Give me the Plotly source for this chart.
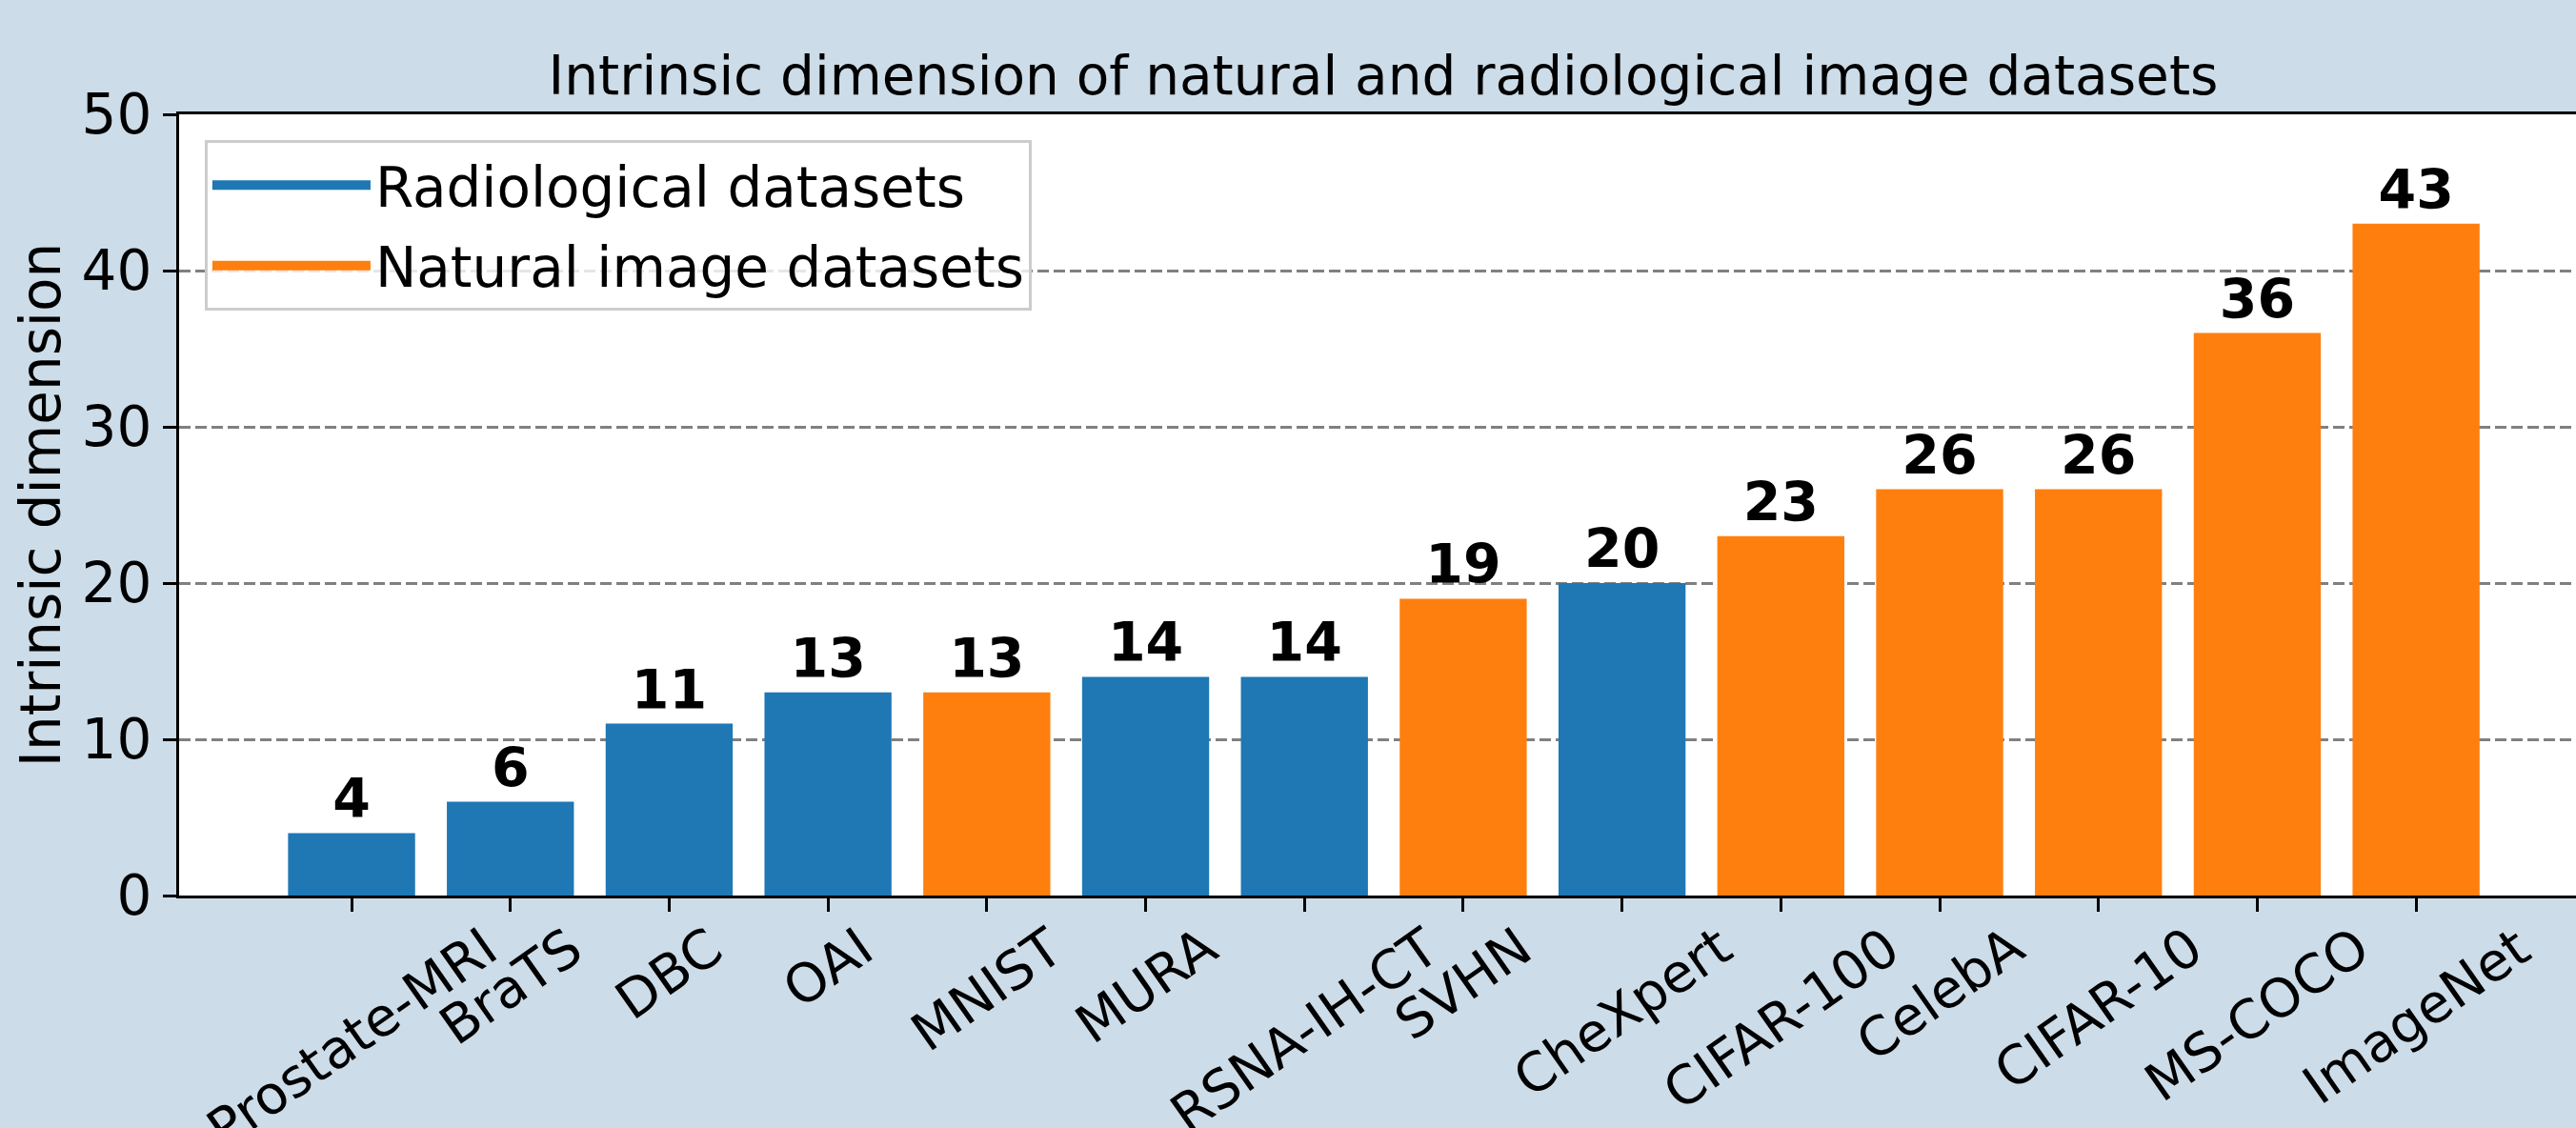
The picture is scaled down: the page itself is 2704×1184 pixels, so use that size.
import plotly.graph_objects as go

# ---- data ----
categories = ["Prostate-MRI", "BraTS", "DBC", "OAI", "MNIST", "MURA", "RSNA-IH-CT",
              "SVHN", "CheXpert", "CIFAR-100", "CelebA", "CIFAR-10", "MS-COCO", "ImageNet"]
intrinsic_dim = [4, 6, 11, 13, 13, 14, 14, 19, 20, 23, 26, 26, 36, 43]
dataset_type = ["Radiological", "Radiological", "Radiological", "Radiological", "Natural",
                "Radiological", "Radiological", "Natural", "Radiological", "Natural",
                "Natural", "Natural", "Natural", "Natural"]
group_order = ["Radiological", "Natural"]
group_labels = ["Radiological datasets", "Natural image datasets"]
y_ticks = [0, 10, 20, 30, 40, 50]
title_text = "Intrinsic dimension of natural and radiological image datasets"
y_title = "Intrinsic dimension"

# ---- style ----
FONT = "DejaVu Sans"
BG = "#ccdce8"
COLORS = {"Radiological": "#1f77b4", "Natural": "#ff7f0e"}
FS = 58

fig = go.Figure()
for grp, label in zip(group_order, group_labels):
    xs = [c for c, t in zip(categories, dataset_type) if t == grp]
    ys = [v for v, t in zip(intrinsic_dim, dataset_type) if t == grp]
    fig.add_trace(go.Bar(
        x=xs, y=ys, name=label, legendgroup=grp, showlegend=False,
        marker=dict(color=COLORS[grp], line=dict(width=0)),
        width=0.8,
        text=ys, texttemplate="%{y}", textposition="outside",
        textfont=dict(family=FONT, size=57, color="black", weight="bold"),
        cliponaxis=False, hoverinfo="skip",
    ))
    # legend swatch for the group (wide patch-like legend symbol)
    fig.add_trace(go.Scatter(
        x=[None], y=[None], mode="lines", name=label, legendgroup=grp,
        line=dict(color=COLORS[grp], width=27), hoverinfo="skip", showlegend=True,
    ))

annotations = [
    dict(x=c, xref="x", y=-0.022, yref="paper", text=c, textangle=-35,
         xanchor="center", yanchor="top", showarrow=False,
         font=dict(family=FONT, size=56, color="black"))
    for c in categories
]

fig.update_layout(
    template="none",
    width=2704, height=1184,
    margin=dict(l=188, r=0, t=120, b=244, pad=0),
    paper_bgcolor=BG, plot_bgcolor="white",
    barmode="overlay",
    font=dict(family=FONT, size=FS, color="black"),
    title=dict(text=title_text, x=0.537, xref="container", xanchor="center",
               y=0.950, yref="container", yanchor="top",
               font=dict(family=FONT, size=56.5, color="black")),
    xaxis=dict(type="category", categoryorder="array", categoryarray=categories,
               range=[-1.086, 14.007], tickmode="array", tickvals=categories,
               showticklabels=False, ticks="outside", ticklen=14, tickwidth=3,
               tickcolor="black", showline=True, linecolor="black", linewidth=3,
               mirror=True, showgrid=False, zeroline=False, automargin=False),
    yaxis=dict(range=[0, 50], tickmode="array", tickvals=y_ticks,
               ticks="outside", ticklen=14, tickwidth=3, tickcolor="black",
               tickfont=dict(family=FONT, size=FS, color="black"),
               showline=True, linecolor="black", linewidth=3, mirror=False,
               showgrid=True, gridcolor="#808080", gridwidth=3, griddash="12px,5px",
               zeroline=False, automargin=False,
               title=dict(text=y_title, font=dict(family=FONT, size=FS, color="black"),
                          standoff=4)),
    legend=dict(x=0.0107, y=0.967, xanchor="left", yanchor="top",
                bgcolor="rgba(255,255,255,0.8)", bordercolor="#cccccc", borderwidth=3,
                font=dict(family=FONT, size=FS, color="black"),
                traceorder="grouped", tracegroupgap=6, itemwidth=166),
    annotations=annotations,
    showlegend=True,
)

fig.write_html("out.html", config={"displayModeBar": False},
               post_script="document.body.style.margin='0';document.body.style.padding='0';")
